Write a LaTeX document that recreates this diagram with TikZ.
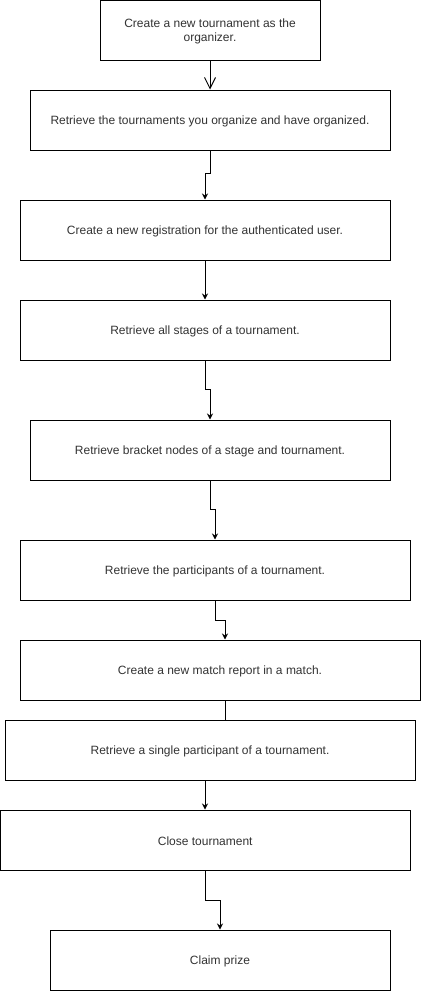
\documentclass[tikz,border=0pt]{standalone}
\usepackage{fontspec}
\setmainfont{Liberation Sans}
\usetikzlibrary{arrows.meta}
\begin{document}
\begin{tikzpicture}[x=1pt,y=-1pt,
  box/.style={draw=black,line width=1pt,fill=white,inner sep=0pt},
  lbl/.style={font=\fontsize{12}{14}\selectfont,text=black!80,align=center,inner sep=0pt},
  conn/.style={draw=black,line width=1pt,-{Stealth[length=6pt,width=6pt]}},
  openconn/.style={draw=black,line width=1pt,-{Straight Barb[length=11pt,width=11pt]}}]
\useasboundingbox (0,0) rectangle (431,991);
\fill[white] (0,0) rectangle (431,991);
\newcommand{\bx}[6]{\node[box,minimum width=#4-#2,minimum height=#5-#3] (#1) at ({(#2+#4)/2},{(#3+#5)/2}) {}; \node[lbl] (#1t) at ({(#2+#4)/2},{(#3+#5)/2+1}) {#6};}
\bx{b1}{100}{0.5}{320}{60}{Create a new tournament as the\\organizer.}
\bx{b2}{30}{90}{390}{150}{Retrieve the tournaments you organize and have organized.}
\bx{b3}{20}{200}{390}{260}{Create a new registration for the authenticated user.}
\bx{b4}{20}{300}{390}{360}{Retrieve all stages of a tournament.}
\bx{b5}{30}{420}{390}{480}{Retrieve bracket nodes of a stage and tournament.}
\bx{b6}{20}{540}{410}{600}{Retrieve the participants of a tournament.}
\bx{b7}{20}{640}{420}{700}{Create a new match report in a match.}
\bx{b8}{5}{720}{415}{780}{Retrieve a single participant of a tournament.}
\bx{b9}{0.5}{810}{410}{870}{Close tournament}
\bx{b10}{50}{930}{390}{990}{Claim prize}
\draw[openconn] (b1.south -| 210,0) -- (b2.north -| 210,0);
\draw[conn] (b2.south -| 210,0) -- (210,173) -- (205,173) -- (b3.north -| 205,0);
\draw[conn] (b3.south -| 205,0) -- (b4.north -| 205,0);
\draw[conn] (b4.south -| 205,0) -- (205,389) -- (210,389) -- (b5.north -| 210,0);
\draw[conn] (b5.south -| 210,0) -- (210,509) -- (215,509) -- (b6.north -| 215,0);
\draw[conn] (b6.south -| 215,0) -- (215,620) -- (225,620) -- (b7.north -| 225,0);
\draw[draw=black,line width=1pt] (b7.south -| 225,0) -- (b8.north -| 225,0);
\draw[conn] (b8.south -| 205,0) -- (b9.north -| 205,0);
\draw[conn] (b9.south -| 205,0) -- (205,900) -- (220,900) -- (b10.north -| 220,0);
\end{tikzpicture}
\end{document}
